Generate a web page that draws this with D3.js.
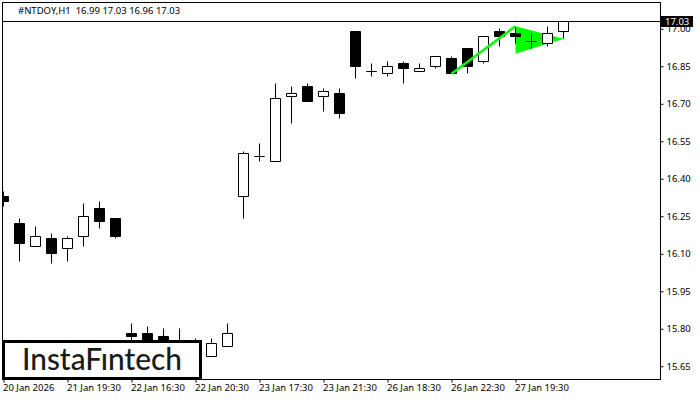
<!DOCTYPE html>
<html>
<head>
<meta charset="utf-8">
<script src="https://cdn.jsdelivr.net/npm/d3@7"></script>
<style>
    html, body { margin: 0; padding: 0; background: #fff; }
    svg { display: block; }
    text { font-family: "Noto Sans", sans-serif; font-size: 9.5px; fill: #000; }
</style>
</head>
<body>
<div id="chart"></div>
<script>
// candles, oldest first: open, high, low, close
var opens  = [16.33,16.22,16.13,16.16,16.12,16.17,16.28,16.24,15.78,15.78,15.77,15.74,15.74,15.69,15.73,16.33,16.49,16.47,16.73,16.77,16.73,16.74,16.99,16.83,16.82,16.86,16.83,16.85,16.88,16.92,16.87,16.99,16.98,16.95,16.94,16.99];
var highs  = [16.35,16.24,16.21,16.18,16.17,16.30,16.31,16.24,15.82,15.81,15.80,15.80,15.76,15.76,15.82,16.51,16.54,16.78,16.77,16.78,16.76,16.76,16.99,16.86,16.87,16.87,16.86,16.89,16.89,16.92,16.97,17.00,17.01,16.98,17.01,17.03];
var lows   = [16.29,16.07,16.13,16.06,16.07,16.13,16.20,16.16,15.74,15.72,15.72,15.71,15.72,15.69,15.73,16.24,16.47,16.47,16.62,16.71,16.67,16.64,16.80,16.81,16.81,16.78,16.83,16.84,16.82,16.82,16.86,16.93,16.94,16.92,16.93,16.96];
var closes = [16.31,16.14,16.17,16.10,16.16,16.25,16.23,16.17,15.77,15.73,15.73,15.74,15.75,15.74,15.78,16.50,16.49,16.72,16.74,16.71,16.75,16.66,16.85,16.83,16.85,16.84,16.84,16.89,16.82,16.85,16.97,16.97,16.97,16.95,16.98,17.03];

var price_ticks = [17.00,16.85,16.70,16.55,16.40,16.25,16.10,15.95,15.80,15.65];
var time_ticks = [0,4,8,12,16,20,24,28,32];
var time_labels = ["20 Jan 2026","21 Jan 19:30","22 Jan 16:30","22 Jan 20:30","23 Jan 17:30","23 Jan 21:30","26 Jan 18:30","26 Jan 22:30","27 Jan 19:30"];

// pennant pattern: [candle index, price]
var pole = [[28,16.82],[32,17.01]];
var flag = [[32,17.01],[32,16.90],[35,16.96]];

var last_price = 17.03;
var title_text = "#NTDOY,H1  16.99 17.03 16.96 17.03";

var width = 700, height = 400;
var left = 2.5, right = 660.5, top_ = 2.5, bottom = 379.5;

var x = d3.scaleLinear().domain([0, 35]).range([3.5, 563.5]);
var y = d3.scaleLinear().domain([17, 15.65]).range([28.75, 366.25]);

function py(p){
    return Math.round(y(p) - 0.5) + 0.5;
}

var svg = d3.select("#chart").append("svg")
    .attr("width", width)
    .attr("height", height);

svg.append("clipPath").attr("id", "plot-clip")
    .append("rect")
    .attr("x", left).attr("y", top_)
    .attr("width", right - left).attr("height", bottom - top_);

var plot = svg.append("g").attr("clip-path", "url(#plot-clip)");

// the triangle sits behind the candles, the pole in front
plot.append("path")
    .attr("d", d3.line().x(d=>x(d[0])).y(d=>y(d[1])).curve(d3.curveLinearClosed)(flag))
    .attr("fill", "#00ff00");

var candles = d3.range(opens.length);

plot.selectAll(".wick").data(candles)
    .enter().append("line")
    .attr("class", "wick")
    .attr("x1", d=>x(d)).attr("x2", d=>x(d))
    .attr("y1", d=>py(highs[d])).attr("y2", d=>py(lows[d]))
    .attr("stroke", "#000")
    .attr("stroke-width", 1);

// a path rather than a rect, so a doji with no height still draws its bar
plot.selectAll(".body").data(candles)
    .enter().append("path")
    .attr("class", "body")
    .attr("d", d=>{
        let y0 = py(Math.max(opens[d], closes[d]));
        let y1 = py(Math.min(opens[d], closes[d]));
        return `M${x(d)-5},${y0}H${x(d)+5}V${y1}H${x(d)-5}Z`;
    })
    .attr("fill", d=>closes[d] < opens[d] ? "#000" : "#fff")
    .attr("stroke", "#000")
    .attr("stroke-width", 1);

plot.append("path")
    .attr("d", d3.line().x(d=>x(d[0])).y(d=>y(d[1]))(pole))
    .attr("fill", "none")
    .attr("stroke", "#00ff00")
    .attr("stroke-width", 2.5);

// last price line
svg.append("line")
    .attr("x1", left).attr("x2", right)
    .attr("y1", py(last_price)).attr("y2", py(last_price))
    .attr("stroke", "#000");

svg.append("rect")
    .attr("x", left).attr("y", top_)
    .attr("width", right - left).attr("height", bottom - top_)
    .attr("fill", "none")
    .attr("stroke", "#000");

var y_axis = d3.axisRight(y)
    .tickValues(price_ticks)
    .tickFormat(d3.format(".2f"))
    .tickSize(3)
    .tickPadding(3);

var x_axis = d3.axisBottom(x)
    .tickValues(time_ticks)
    .tickFormat((d,i)=>time_labels[i])
    .tickSize(3)
    .tickPadding(2);

svg.append("g").attr("transform", `translate(${right},0)`).call(y_axis)
    .call(g=>g.select(".domain").remove())
    .call(g=>g.selectAll(".tick line").attr("stroke", "#000"));

svg.append("g").attr("transform", `translate(0,${bottom})`).call(x_axis)
    .call(g=>g.select(".domain").remove())
    .call(g=>g.selectAll(".tick line").attr("stroke", "#000"))
    .call(g=>g.selectAll(".tick text").attr("text-anchor", "start").attr("dx", "-1"));

// last price tag
svg.append("rect")
    .attr("x", 661).attr("y", 16)
    .attr("width", 32).attr("height", 11)
    .attr("fill", "#000");
svg.append("text")
    .attr("x", 665).attr("y", 25)
    .style("fill", "#fff")
    .text(last_price.toFixed(2));

svg.append("text")
    .attr("x", 18).attr("y", 14)
    .attr("xml:space", "preserve")
    .style("white-space", "pre")
    .text(title_text);

// logo
svg.append("rect")
    .attr("x", 3.5).attr("y", 341.5)
    .attr("width", 197).attr("height", 37)
    .attr("fill", "#fff")
    .attr("stroke", "#000")
    .attr("stroke-width", 3);
svg.append("text")
    .attr("x", 22).attr("y", 370)
    .attr("textLength", 160)
    .attr("lengthAdjust", "spacingAndGlyphs")
    .style("font-family", "Lato, sans-serif")
    .style("font-size", "30px")
    .style("font-weight", 500)
    .style("fill", "#1a1a1a")
    .text("InstaFıntech");
</script>
</body>
</html>
